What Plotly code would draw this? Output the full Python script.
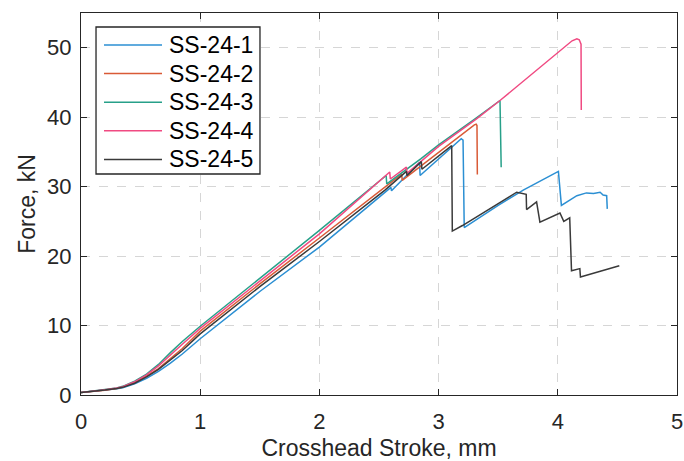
import plotly.graph_objects as go

# ---- data (Crosshead stroke in mm, Force in kN) ----
names = ["SS-24-1", "SS-24-2", "SS-24-3", "SS-24-4", "SS-24-5"]
colors = ["#2b8fd3", "#d95a36", "#27a089", "#f04a82", "#3a3a3a"]

x1 = [0, 0.1, 0.2, 0.3, 0.35, 0.45, 0.55, 0.65, 0.75, 0.85, 1.0, 1.5, 2.0, 2.55, 2.6, 2.605,
      2.84, 2.845, 3.19, 3.205, 3.215, 3.5, 3.71, 4.005, 4.015, 4.02, 4.03, 4.16, 4.24,
      4.30, 4.355, 4.38, 4.41, 4.415]
y1 = [0.35, 0.5, 0.7, 0.9, 1.05, 1.6, 2.4, 3.4, 4.6, 5.9, 8.1, 14.9, 21.3, 29.2, 29.9, 29.4,
      33.5, 31.6, 36.9, 36.7, 24.1, 27.3, 29.5, 32.2, 30.2, 29.9, 27.3, 28.7, 29.1,
      29.0, 29.2, 28.8, 28.7, 26.8]

x2 = [0, 0.1, 0.2, 0.3, 0.35, 0.45, 0.55, 0.65, 0.75, 0.85, 1.0, 1.5, 2.0, 2.5, 2.69, 2.695,
      3.0, 3.30, 3.315, 3.322, 3.325]
y2 = [0.35, 0.5, 0.7, 0.95, 1.15, 1.8, 2.7, 3.8, 5.2, 6.7, 9.2, 16.0, 22.6, 29.3, 31.8, 30.9,
      35.0, 38.9, 39.0, 38.8, 31.75]

x3 = [0, 0.1, 0.2, 0.3, 0.35, 0.45, 0.55, 0.65, 0.75, 0.85, 1.0, 1.5, 2.0, 2.56, 2.565,
      2.85, 3.0, 3.3, 3.505, 3.515, 3.525]
y3 = [0.35, 0.55, 0.75, 1.0, 1.25, 2.0, 3.0, 4.4, 6.1, 7.7, 9.9, 16.8, 23.7, 31.6, 30.4,
      34.0, 36.0, 39.7, 42.3, 42.4, 32.8]

x4 = [0, 0.1, 0.2, 0.3, 0.35, 0.45, 0.55, 0.65, 0.75, 0.85, 1.0, 1.5, 2.0, 2.59, 2.595,
      2.73, 2.735, 3.0, 3.318, 3.515, 4.12, 4.16, 4.18, 4.195, 4.197]
y4 = [0.35, 0.5, 0.75, 1.0, 1.2, 1.9, 2.9, 4.2, 5.8, 7.3, 9.6, 16.4, 23.2, 32.1, 31.1,
      32.8, 31.9, 35.8, 39.75, 42.4, 51.0, 51.3, 51.15, 50.5, 41.05]

x5 = [0, 0.1, 0.2, 0.3, 0.35, 0.45, 0.55, 0.65, 0.75, 0.85, 1.0, 1.5, 2.0, 2.55, 2.73, 2.735,
      2.855, 2.86, 3.11, 3.115, 3.2, 3.4, 3.655, 3.735, 3.738, 3.822, 3.85, 4.018, 4.05,
      4.10, 4.115, 4.185, 4.19, 4.516]
y5 = [0.35, 0.5, 0.72, 0.95, 1.1, 1.7, 2.6, 3.7, 5.0, 6.4, 8.8, 15.6, 22.1, 29.5, 32.2, 31.6,
      33.6, 32.5, 35.9, 23.6, 24.4, 26.5, 29.2, 28.9, 26.7, 27.8, 24.9, 26.2, 25.0,
      25.5, 17.9, 18.2, 17.0, 18.6]

xs = [x1, x2, x3, x4, x5]
ys = [y1, y2, y3, y4, y5]

x_ticks = [0, 1, 2, 3, 4, 5]
y_ticks = [0, 10, 20, 30, 40, 50]

FONT = "Liberation Sans, Arial, Helvetica"
INK = "#262626"

fig = go.Figure()
for n, c, xv, yv in zip(names, colors, xs, ys):
    fig.add_trace(go.Scatter(x=xv, y=yv, mode="lines", name=n,
                             line=dict(color=c, width=1.5), showlegend=False))

axis_common = dict(
    showline=True, linecolor=INK, linewidth=1.3, mirror="allticks",
    ticks="inside", ticklen=6, tickwidth=1.2, tickcolor=INK,
    showgrid=True, gridcolor="#d6d6d6", gridwidth=1, griddash="dash",
    zeroline=False, automargin=False,
    tickfont=dict(family=FONT, size=22, color=INK),
)

# ---- MATLAB-style legend box (paper coordinates) ----
leg_x0, leg_x1, leg_y0, leg_y1 = 0.0252, 0.3003, 0.5785, 0.9634
row_top, row_step = 0.9162, 0.0749
line_x0, line_x1, text_x = 0.0386, 0.1359, 0.1443

shapes = [dict(type="rect", xref="paper", yref="paper", x0=leg_x0, x1=leg_x1,
               y0=leg_y0, y1=leg_y1, line=dict(color=INK, width=1.3),
               fillcolor="white", layer="above")]
annotations = []
for i, (n, c) in enumerate(zip(names, colors)):
    yy = row_top - i * row_step
    shapes.append(dict(type="line", xref="paper", yref="paper", x0=line_x0, x1=line_x1,
                       y0=yy, y1=yy, line=dict(color=c, width=1.5), layer="above"))
    annotations.append(dict(xref="paper", yref="paper", x=text_x, y=yy, text=n,
                            showarrow=False, xanchor="left", yanchor="middle",
                            font=dict(family=FONT, size=23, color="#000000")))

fig.update_layout(
    width=684, height=461,
    margin=dict(l=81, r=7, t=13, b=66),
    paper_bgcolor="white", plot_bgcolor="white",
    font=dict(family=FONT, size=22, color=INK),
    xaxis=dict(range=[0, 5], tickvals=x_ticks, ticklabelstandoff=6,
               title=dict(text="Crosshead Stroke, mm", font=dict(size=23), standoff=9),
               **axis_common),
    yaxis=dict(range=[0, 55], tickvals=y_ticks, ticklabelstandoff=4,
               title=dict(text="Force, kN", font=dict(size=23), standoff=4),
               **axis_common),
    shapes=shapes,
    annotations=annotations,
    showlegend=False,
)

fig.write_html("out.html")
